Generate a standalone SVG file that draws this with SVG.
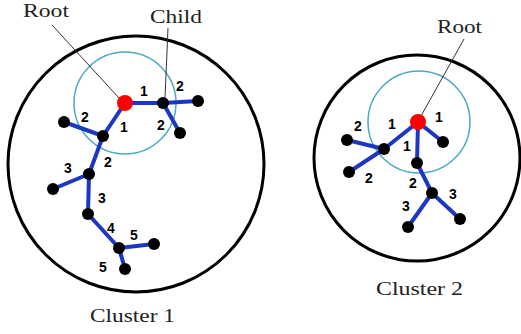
<svg xmlns="http://www.w3.org/2000/svg" width="521" height="334" viewBox="0 0 521 334">
<style>
.outer{fill:none;stroke:#000;stroke-width:3}
.inner{fill:none;stroke:#4ba9c2;stroke-width:1.5}
.edge{stroke:#1c37c4;stroke-width:4;stroke-linecap:round}
.lead{stroke:#333;stroke-width:1}
.node{fill:#000}
.root{fill:#ff0000}
.num{font-family:"Liberation Sans",Arial,sans-serif;font-weight:bold;font-size:14px;fill:#000;text-anchor:middle}
.lbl{font-family:"Liberation Serif","DejaVu Serif",serif;font-size:19px;fill:#222}
</style>
<rect width="521" height="334" fill="#fff"/>
<g id="cluster1-bounds">
<circle class="outer" cx="136" cy="164" r="128"/>
<circle class="inner" cx="125" cy="103" r="51"/>
</g>
<g id="cluster2-bounds">
<circle class="outer" cx="417" cy="158" r="103"/>
<circle class="inner" cx="419" cy="122" r="51"/>
</g>
<g id="connectors">
<line class="edge" x1="125" y1="103" x2="163" y2="103"/>
<line class="edge" x1="163" y1="103" x2="198" y2="101"/>
<line class="edge" x1="163" y1="103" x2="180" y2="133"/>
<line class="edge" x1="125" y1="103" x2="103" y2="136"/>
<line class="edge" x1="103" y1="136" x2="64" y2="122"/>
<line class="edge" x1="103" y1="136" x2="89" y2="174"/>
<line class="edge" x1="89" y1="174" x2="53" y2="189"/>
<line class="edge" x1="89" y1="174" x2="88" y2="214"/>
<line class="edge" x1="88" y1="214" x2="119" y2="248"/>
<line class="edge" x1="119" y1="248" x2="154" y2="244"/>
<line class="edge" x1="119" y1="248" x2="125" y2="269"/>
<line class="edge" x1="418" y1="122" x2="443" y2="142"/>
<line class="edge" x1="418" y1="122" x2="417" y2="163"/>
<line class="edge" x1="418" y1="122" x2="384" y2="149"/>
<line class="edge" x1="384" y1="149" x2="347" y2="140"/>
<line class="edge" x1="384" y1="149" x2="349" y2="172"/>
<line class="edge" x1="417" y1="163" x2="432" y2="193"/>
<line class="edge" x1="432" y1="193" x2="408" y2="227"/>
<line class="edge" x1="432" y1="193" x2="460" y2="219"/>
<line class="lead" x1="52" y1="25" x2="119" y2="98"/>
<line class="lead" x1="168" y1="28" x2="165" y2="98"/>
<line class="lead" x1="464" y1="39" x2="421" y2="116"/>
</g>
<g id="c1-root"><circle class="root" cx="125" cy="103" r="8"/></g>
<g id="c1-child"><circle class="node" cx="163" cy="103" r="6"/></g>
<g id="c1-n3"><circle class="node" cx="198" cy="101" r="6"/></g>
<g id="c1-n4"><circle class="node" cx="180" cy="133" r="6"/></g>
<g id="c1-n5"><circle class="node" cx="103" cy="136" r="6"/></g>
<g id="c1-n6"><circle class="node" cx="64" cy="122" r="6"/></g>
<g id="c1-n7"><circle class="node" cx="89" cy="174" r="6"/></g>
<g id="c1-n8"><circle class="node" cx="53" cy="189" r="6"/></g>
<g id="c1-n9"><circle class="node" cx="88" cy="214" r="6"/></g>
<g id="c1-n10"><circle class="node" cx="119" cy="248" r="6"/></g>
<g id="c1-n11"><circle class="node" cx="154" cy="244" r="6"/></g>
<g id="c1-n12"><circle class="node" cx="125" cy="269" r="6"/></g>
<g id="c2-root"><circle class="root" cx="418" cy="122" r="8"/></g>
<g id="c2-n2"><circle class="node" cx="443" cy="142" r="6"/></g>
<g id="c2-n3"><circle class="node" cx="417" cy="163" r="6"/></g>
<g id="c2-n4"><circle class="node" cx="384" cy="149" r="6"/></g>
<g id="c2-n5"><circle class="node" cx="347" cy="140" r="6"/></g>
<g id="c2-n6"><circle class="node" cx="349" cy="172" r="6"/></g>
<g id="c2-n7"><circle class="node" cx="432" cy="193" r="6"/></g>
<g id="c2-n8"><circle class="node" cx="408" cy="227" r="6"/></g>
<g id="c2-n9"><circle class="node" cx="460" cy="219" r="6"/></g>
<g id="edge-labels">
<text class="num" x="144" y="96">1</text>
<text class="num" x="180" y="91">2</text>
<text class="num" x="161" y="130">2</text>
<text class="num" x="85" y="122">2</text>
<text class="num" x="124" y="132">1</text>
<text class="num" x="108" y="167">2</text>
<text class="num" x="68" y="173">3</text>
<text class="num" x="102" y="203">3</text>
<text class="num" x="111" y="233">4</text>
<text class="num" x="134" y="240">5</text>
<text class="num" x="103" y="272">5</text>
<text class="num" x="392" y="129">1</text>
<text class="num" x="439" y="122">1</text>
<text class="num" x="407" y="151">1</text>
<text class="num" x="358" y="131">2</text>
<text class="num" x="369" y="183">2</text>
<text class="num" x="413" y="188">2</text>
<text class="num" x="406" y="211">3</text>
<text class="num" x="453" y="199">3</text>
</g>
<g id="titles">
<text class="lbl" x="23" y="17" textLength="46" lengthAdjust="spacingAndGlyphs">Root</text>
<text class="lbl" x="150" y="23" textLength="52" lengthAdjust="spacingAndGlyphs">Child</text>
<text class="lbl" x="437" y="33" textLength="45" lengthAdjust="spacingAndGlyphs">Root</text>
<text class="lbl" x="90" y="322" textLength="85" lengthAdjust="spacingAndGlyphs">Cluster 1</text>
<text class="lbl" x="376" y="295" textLength="87" lengthAdjust="spacingAndGlyphs">Cluster 2</text>
</g>
</svg>
